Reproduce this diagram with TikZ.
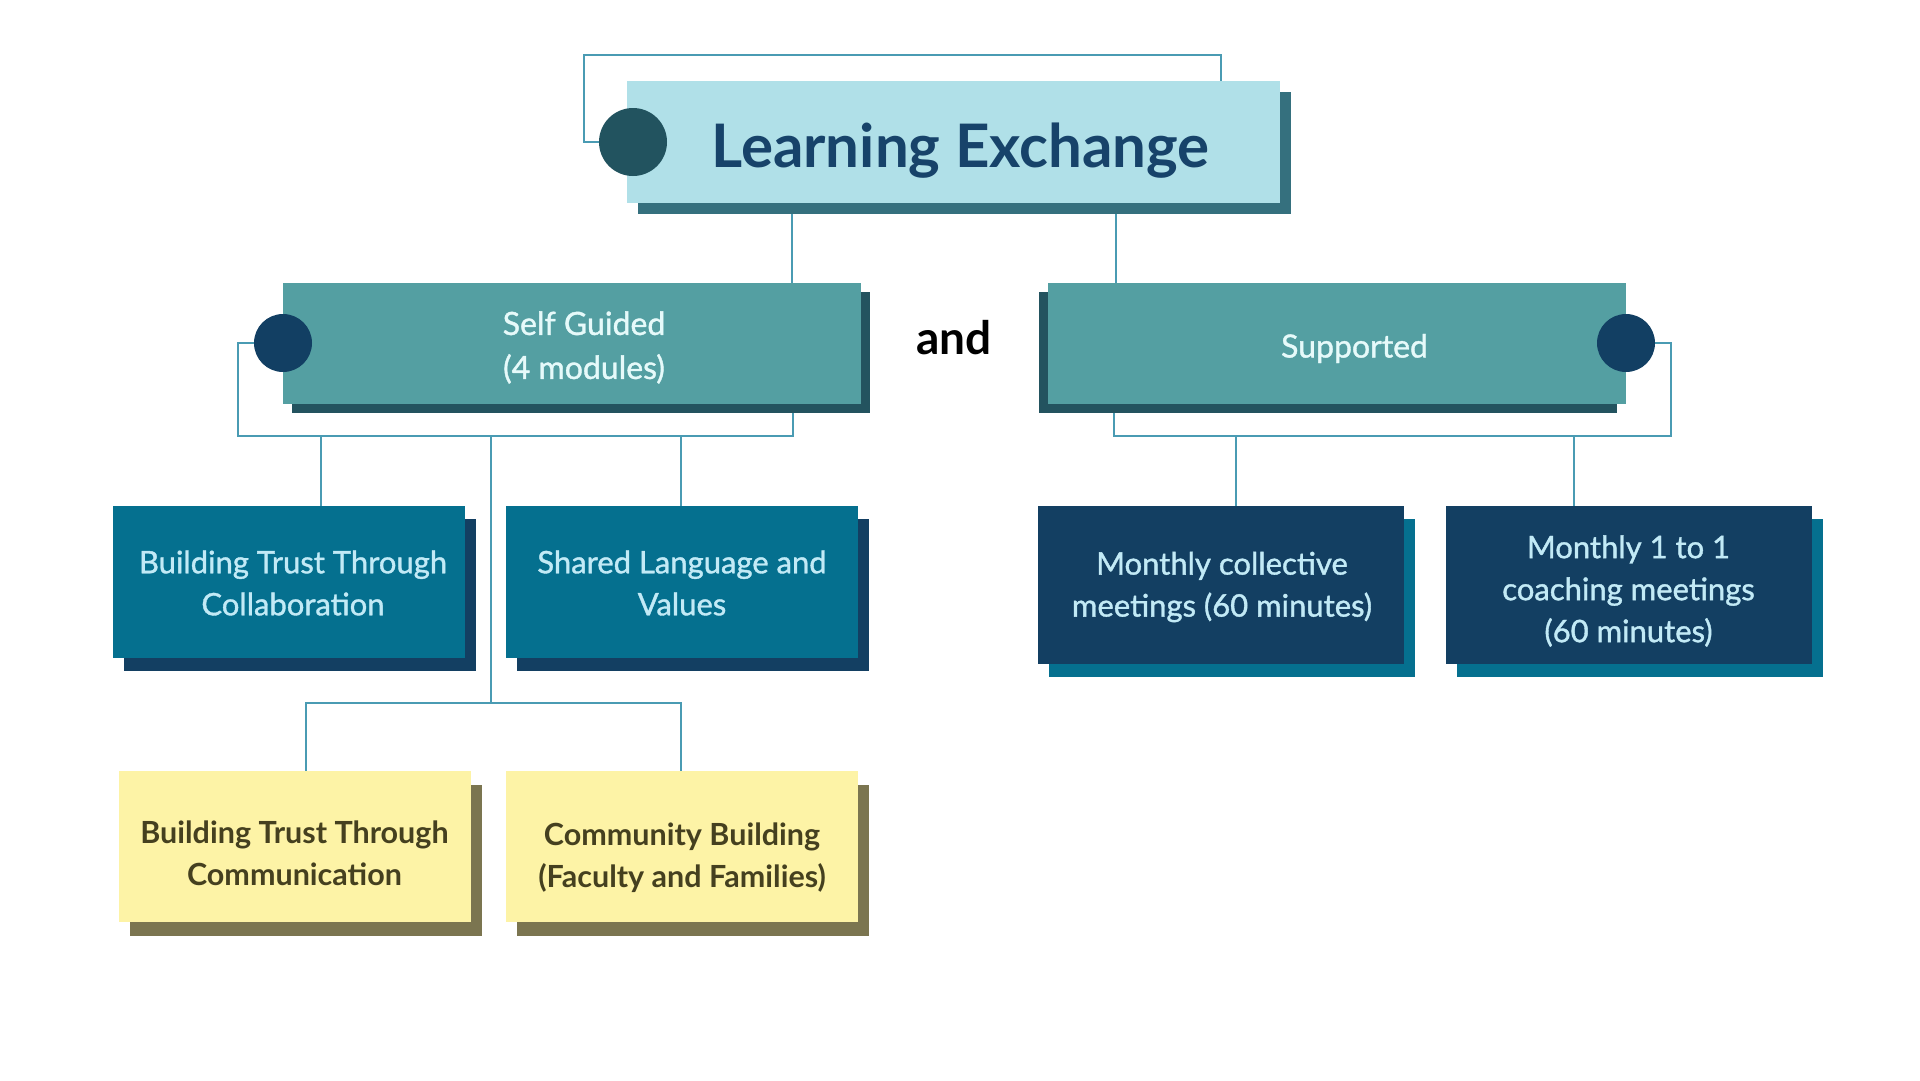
\documentclass[tikz,border=0pt]{standalone}
\usepackage{fontspec}
\setmainfont{Lato}
\newfontfamily\latomed[FakeBold=1.2]{Lato}
\usetikzlibrary{shadows}
\definecolor{titlebg}{HTML}{B0E0E8}
\definecolor{titlesh}{HTML}{35707E}
\definecolor{titlecirc}{HTML}{22535F}
\definecolor{titletext}{HTML}{17436A}
\definecolor{linec}{HTML}{4A9BB3}
\definecolor{midbg}{HTML}{549FA2}
\definecolor{midsh}{HTML}{23535F}
\definecolor{midcirc}{HTML}{123F63}
\definecolor{midtext}{HTML}{E6FAFA}
\definecolor{bluebg}{HTML}{05708F}
\definecolor{navybg}{HTML}{133F62}
\definecolor{lighttext}{HTML}{C2EAF6}
\definecolor{yellowbg}{HTML}{FDF3A6}
\definecolor{yellowsh}{HTML}{7B7550}
\definecolor{yellowtext}{HTML}{45401F}
\pgfdeclarelayer{bg}
\pgfdeclarelayer{paper}
\pgfsetlayers{paper,bg,main}
\begin{document}
\begin{tikzpicture}[x=1pt,y=-1pt,
  conn/.style={draw=linec,line width=1.6pt},
  box/.style={rectangle,inner sep=0pt,align=center},
  titlebox/.style={box,fill=titlebg,minimum width=653pt,minimum height=122pt,
    general shadow={fill=titlesh,shadow xshift=11pt,shadow yshift=-11pt}},
  titletxt/.style={text=titletext,font=\fontsize{60}{66}\selectfont\bfseries},
  midbox/.style={box,fill=midbg,minimum width=578pt,minimum height=121pt},
  midtxt/.style={align=center,text=midtext,font=\fontsize{32}{44}\selectfont\latomed},
  bluebox/.style={box,fill=bluebg,minimum width=352pt,minimum height=152pt,
    general shadow={fill=navybg,shadow xshift=11pt,shadow yshift=-13pt}},
  navybox/.style={box,fill=navybg,minimum width=366pt,minimum height=158pt,
    general shadow={fill=bluebg,shadow xshift=11pt,shadow yshift=-13pt}},
  lighttxt/.style={align=center,text=lighttext,font=\fontsize{31}{42}\selectfont\latomed},
  yellowbox/.style={box,fill=yellowbg,minimum width=352pt,minimum height=151pt,
    general shadow={fill=yellowsh,shadow xshift=11pt,shadow yshift=-14pt}},
  yellowtxt/.style={align=center,text=yellowtext,font=\fontsize{30.5}{42}\selectfont\bfseries},
  dot/.style={circle,inner sep=0pt,minimum size=#1}
]
\begin{pgfonlayer}{paper}
\path[use as bounding box,fill=white] (0,0) rectangle (1920,1080);
\end{pgfonlayer}

% title
\node[titlebox] (title) at (953.5,142) {};
\node[titletxt] (titlet) at ([xshift=7pt,yshift=-9pt]title.center) {Learning Exchange};
\node[dot=68pt,fill=titlecirc] (tcirc) at (633,142) {};

% second level
\node[midbox,general shadow={fill=midsh,shadow xshift=9pt,shadow yshift=-9pt}] (sg) at (572,343.5) {};
\node[midtxt] (sgt) at ([xshift=12pt,yshift=-4pt]sg.center) {Self Guided\\(4 modules)};
\node[dot=58pt,fill=midcirc] (sgc) at (283,343) {};
\node[midbox,general shadow={fill=midsh,shadow xshift=-9pt,shadow yshift=-9pt}] (sup) at (1336.5,343.5) {};
\node[midtxt] (supt) at ([xshift=18pt,yshift=-5pt]sup.center) {Supported};
\node[dot=58pt,fill=midcirc] (supc) at (1626,343) {};
\node[font=\fontsize{46}{50}\selectfont\bfseries,text=black] (and) at (954,338) {and};

% third level
\node[bluebox] (bt) at (289,582) {};
\node[lighttxt] (btt) at ([xshift=4pt,yshift=-1pt]bt.center) {Building Trust Through\\Collaboration};
\node[bluebox] (slv) at (682,582) {};
\node[lighttxt] (slvt) at ([yshift=-1pt]slv.center) {Shared Language and\\Values};
\node[navybox] (mc) at (1221,585) {};
\node[lighttxt] (mct) at ([xshift=1pt,yshift=-2pt]mc.center) {Monthly collective\\meetings (60 minutes)};
\node[navybox] (m1) at (1628.5,585) {};
\node[lighttxt] (m1t) at ([yshift=-6pt]m1.center) {Monthly 1 to 1\\coaching meetings\\(60 minutes)};

% fourth level
\node[yellowbox] (btc) at (294.5,846.5) {};
\node[yellowtxt] (btct) at ([yshift=-7pt]btc.center) {Building Trust Through\\Communication};
\node[yellowbox] (cb) at (682,846.5) {};
\node[yellowtxt] (cbt) at ([yshift=-11pt]cb.center) {Community Building\\(Faculty and Families)};

\begin{pgfonlayer}{bg}
% title frame
\coordinate (f1) at (584,55);
\coordinate (f2) at (1221,55);
\draw[conn] (tcirc.west) -| (f1) -- (f2) -- (f2 |- title.north);
% title to second level
\coordinate (t1) at (792,0);
\coordinate (t2) at (1116,0);
\draw[conn] (t1 |- title.south) -- (t1 |- sg.north);
\draw[conn] (t2 |- title.south) -- (t2 |- sup.north);
% self guided frame
\coordinate (sgL) at (238,436);
\coordinate (sgR) at (793,436);
\draw[conn] (sgc.west) -| (sgL) -- (sgR) -- (sgR |- sg.south);
\coordinate (c1) at (321,436);
\coordinate (c2) at (681,436);
\coordinate (c3) at (491,436);
\coordinate (c3b) at (491,703);
\coordinate (y1) at (306,703);
\coordinate (y2) at (681,703);
\draw[conn] (c1) -- (c1 |- bt.north);
\draw[conn] (c2) -- (c2 |- slv.north);
\draw[conn] (c3) -- (c3b);
\draw[conn] (y1 |- btc.north) -- (y1) -- (y2) -- (y2 |- cb.north);
% supported frame
\coordinate (spR) at (1671,436);
\coordinate (spL) at (1114,436);
\draw[conn] (supc.east) -| (spR) -- (spL) -- (spL |- sup.south);
\coordinate (d1) at (1236,436);
\coordinate (d2) at (1574,436);
\draw[conn] (d1) -- (d1 |- mc.north);
\draw[conn] (d2) -- (d2 |- m1.north);
\end{pgfonlayer}
\end{tikzpicture}
\end{document}
